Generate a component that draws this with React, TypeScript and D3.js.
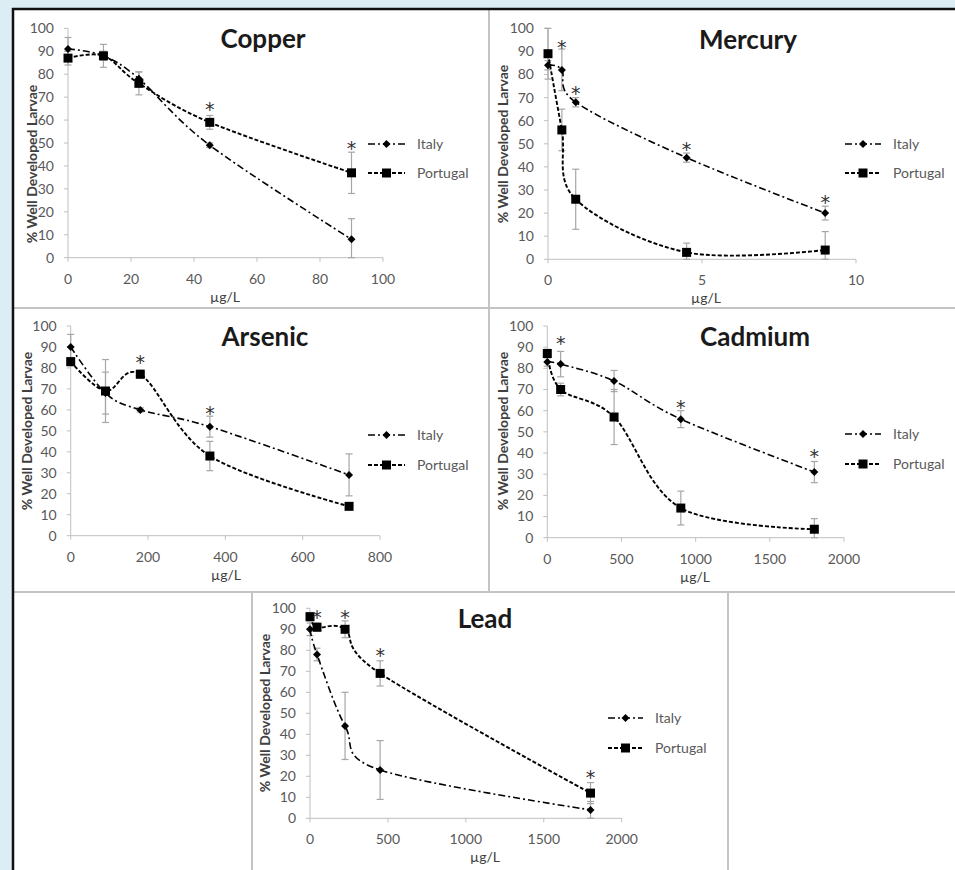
import * as d3 from 'd3';

const W = 955;
const H = 870;

// Copper (µg/L)
const copperConc = [0, 11.25, 22.5, 45, 90];
const copperItaly = [91, 88, 78, 49, 8];
const copperItalySd = [5, 2, 3, 1, 9];
const copperPortugal = [87, 88, 76, 59, 37];
const copperPortugalSd = [3, 5, 5, 3, 9];
const copperStarConc = [45, 90];
const copperStarY = [67, 50];
const copperTicks = [0, 20, 40, 60, 80, 100];

// Mercury
const mercuryConc = [0, 0.45, 0.9, 4.5, 9];
const mercuryItaly = [84, 82, 68, 44, 20];
const mercuryItalySd = [2, 9, 2, 2, 3];
const mercuryPortugal = [89, 56, 26, 3, 4];
const mercuryPortugalSd = [11, 9, 13, 4, 8];
const mercuryStarConc = [0.45, 0.9, 4.5, 9];
const mercuryStarY = [94, 74, 50, 27];
const mercuryTicks = [0, 5, 10];

// Arsenic
const arsenicConc = [0, 90, 180, 360, 720];
const arsenicItaly = [90, 68, 60, 52, 29];
const arsenicItalySd = [6, 10, 1, 5, 10];
const arsenicPortugal = [83, 69, 77, 38, 14];
const arsenicPortugalSd = [2, 15, 2, 7, 1];
const arsenicStarConc = [180, 360];
const arsenicStarY = [85, 61];
const arsenicTicks = [0, 200, 400, 600, 800];

// Cadmium
const cadmiumConc = [0, 90, 450, 900, 1800];
const cadmiumItaly = [83, 82, 74, 56, 31];
const cadmiumItalySd = [2, 6, 5, 4, 5];
const cadmiumPortugal = [87, 70, 57, 14, 4];
const cadmiumPortugalSd = [2, 3, 13, 8, 5];
const cadmiumStarConc = [90, 900, 1800];
const cadmiumStarY = [94, 64, 41];
const cadmiumTicks = [0, 500, 1000, 1500, 2000];

// Lead
const leadConc = [0, 45, 225, 450, 1800];
const leadItaly = [90, 78, 44, 23, 4];
const leadItalySd = [3, 3, 16, 14, 4];
const leadPortugal = [96, 91, 90, 69, 12];
const leadPortugalSd = [2, 2, 4, 6, 5];
const leadStarConc = [45, 225, 450, 1800];
const leadStarY = [98, 98, 80, 22];
const leadTicks = [0, 500, 1000, 1500, 2000];

const yTicks = [0, 10, 20, 30, 40, 50, 60, 70, 80, 90, 100];
const seriesNames = ['Italy', 'Portugal'];

const FONT = "Lato, 'Open Sans', sans-serif";
const GRID = '#bfbfbf';
const ERR = '#a6a6a6';
const TXT = '#595959';

const panels = [
  {
    title: 'Copper', conc: copperConc, italy: copperItaly, italySd: copperItalySd,
    portugal: copperPortugal, portugalSd: copperPortugalSd,
    starConc: copperStarConc, starY: copperStarY, ticks: copperTicks,
    box: { x0: 68, x1: 383, y0: 257.7, y1: 28.3 },
    titleX: 263, titleY: 48, ylabX: 32, ylabY: 164, xlabX: 225,
    leg: { x0: 368, x1: 405, tx: 417, y1: 144, y2: 173 },
  },
  {
    title: 'Mercury', conc: mercuryConc, italy: mercuryItaly, italySd: mercuryItalySd,
    portugal: mercuryPortugal, portugalSd: mercuryPortugalSd,
    starConc: mercuryStarConc, starY: mercuryStarY, ticks: mercuryTicks,
    box: { x0: 548, x1: 856, y0: 259.3, y1: 28.3 },
    titleX: 748, titleY: 49, ylabX: 503, ylabY: 144, xlabX: 706,
    leg: { x0: 845, x1: 881, tx: 893, y1: 144, y2: 173 },
  },
  {
    title: 'Arsenic', conc: arsenicConc, italy: arsenicItaly, italySd: arsenicItalySd,
    portugal: arsenicPortugal, portugalSd: arsenicPortugalSd,
    starConc: arsenicStarConc, starY: arsenicStarY, ticks: arsenicTicks,
    box: { x0: 70.7, x1: 380, y0: 535.7, y1: 326 },
    titleX: 265, titleY: 346, ylabX: 27, ylabY: 431, xlabX: 226,
    leg: { x0: 368, x1: 405, tx: 417, y1: 435, y2: 465 },
  },
  {
    title: 'Cadmium', conc: cadmiumConc, italy: cadmiumItaly, italySd: cadmiumItalySd,
    portugal: cadmiumPortugal, portugalSd: cadmiumPortugalSd,
    starConc: cadmiumStarConc, starY: cadmiumStarY, ticks: cadmiumTicks,
    box: { x0: 547.3, x1: 844, y0: 537.7, y1: 326 },
    titleX: 755, titleY: 346, ylabX: 503, ylabY: 431, xlabX: 695,
    leg: { x0: 845, x1: 881, tx: 893, y1: 434, y2: 464 },
  },
  {
    title: 'Lead', conc: leadConc, italy: leadItaly, italySd: leadItalySd,
    portugal: leadPortugal, portugalSd: leadPortugalSd,
    starConc: leadStarConc, starY: leadStarY, ticks: leadTicks,
    box: { x0: 310, x1: 621.7, y0: 818.3, y1: 608.3 },
    titleX: 485, titleY: 628, ylabX: 265, ylabY: 713, xlabX: 485,
    leg: { x0: 608, x1: 643, tx: 655, y1: 718, y2: 748 },
  },
];

const styles = [
  { dash: '7,3,2,3', width: 1.6 },
  { dash: '4,2', width: 1.9 },
];

const diamond = 'M0,-4L4,0L0,4L-4,0Z';
const square = 'M-4.5,-4.5H4.5V4.5H-4.5Z';

function Marker({ kind, x, y }) {
  return <path d={kind === 0 ? diamond : square} transform={`translate(${x},${y})`} fill="#000" />;
}

function Panel({ p }) {
  const { box } = p;
  const x = d3.scaleLinear().domain([p.ticks[0], p.ticks[p.ticks.length - 1]]).range([box.x0, box.x1]);
  const y = d3.scaleLinear().domain([0, 100]).range([box.y0, box.y1]);
  const line = d3.line<[number, number]>()
    .x(d => x(d[0]))
    .y(d => y(d[1]))
    .curve(d3.curveCardinal.tension(0));

  const series = [
    { vals: p.italy, sd: p.italySd },
    { vals: p.portugal, sd: p.portugalSd },
  ];

  return (
    <g>
      {/* axes */}
      <line x1={box.x0} x2={box.x0} y1={box.y1} y2={box.y0} stroke={GRID} />
      <line x1={box.x0} x2={box.x1} y1={box.y0} y2={box.y0} stroke={GRID} />
      {yTicks.map(t => (
        <g key={'y' + t}>
          <line x1={box.x0 - 4} x2={box.x0} y1={y(t)} y2={y(t)} stroke={GRID} />
          <text x={box.x0 - 14} y={y(t)} dy="0.35em" textAnchor="end" fontSize={14} fill={TXT}>{t}</text>
        </g>
      ))}
      {p.ticks.map(t => (
        <g key={'x' + t}>
          <line x1={x(t)} x2={x(t)} y1={box.y0} y2={box.y0 + 4} stroke={GRID} />
          <text x={x(t)} y={box.y0 + 26} textAnchor="middle" fontSize={14} fill={TXT}>{t}</text>
        </g>
      ))}
      <text x={p.xlabX} y={box.y0 + 44} textAnchor="middle" fontSize={14} fill="#404040">µg/L</text>
      <text transform={`translate(${p.ylabX},${p.ylabY}) rotate(-90)`} textAnchor="middle" dy="0.35em"
        fontSize={14} fontWeight="bold" fill="#404040">% Well Developed Larvae</text>
      <text x={p.titleX} y={p.titleY} textAnchor="middle" fontSize={26} fontWeight="bold" fill="#1a1a1a">{p.title}</text>

      {/* error bars */}
      {series.map((s, k) => s.vals.map((v, i) => {
        const cx = x(p.conc[i]);
        const lo = y(Math.max(0, v - s.sd[i]));
        const hi = y(v + s.sd[i]);
        return (
          <g key={`e${k}-${i}`} stroke={ERR} strokeWidth={1.2}>
            <line x1={cx} x2={cx} y1={lo} y2={hi} />
            <line x1={cx - 3.5} x2={cx + 3.5} y1={lo} y2={lo} />
            <line x1={cx - 3.5} x2={cx + 3.5} y1={hi} y2={hi} />
          </g>
        );
      }))}

      {/* lines */}
      {series.map((s, k) => (
        <path key={'l' + k} d={line(s.vals.map((v, i) => [p.conc[i], v]))} fill="none" stroke="#000"
          strokeWidth={styles[k].width} strokeDasharray={styles[k].dash} />
      ))}
      {series.map((s, k) => s.vals.map((v, i) => (
        <Marker key={`m${k}-${i}`} kind={k} x={x(p.conc[i])} y={y(v)} />
      )))}

      {/* significance */}
      {p.starConc.map((c, i) => (
        <text key={'s' + i} x={x(c)} y={y(p.starY[i])} dy="0.62em" textAnchor="middle" fontSize={19}
          fontFamily="'DejaVu Sans', sans-serif" fill="#333">*</text>
      ))}

      {/* legend */}
      {seriesNames.map((n, k) => {
        const ly = k === 0 ? p.leg.y1 : p.leg.y2;
        return (
          <g key={'lg' + k}>
            <line x1={p.leg.x0} x2={p.leg.x1} y1={ly} y2={ly} stroke="#000" strokeWidth={styles[k].width}
              strokeDasharray={styles[k].dash} />
            <Marker kind={k} x={(p.leg.x0 + p.leg.x1) / 2} y={ly} />
            <text x={p.leg.tx} y={ly} dy="0.35em" fontSize={14} fill={TXT}>{n}</text>
          </g>
        );
      })}
    </g>
  );
}

export default function App() {
  return (
    <svg width={W} height={H} style={{ position: 'absolute', left: 0, top: 0 }} fontFamily={FONT}>
      <rect width={W} height={H} fill="#dcedf3" />
      <rect x={13} y={9} width={W - 13} height={H - 9} fill="#fff" />
      {/* panel dividers */}
      <g stroke="#c4c4c4" strokeWidth={2}>
        <line x1={13} x2={W} y1={308} y2={308} />
        <line x1={13} x2={W} y1={592} y2={592} />
        <line x1={489} x2={489} y1={9} y2={592} />
        <line x1={252} x2={252} y1={592} y2={H} />
        <line x1={728} x2={728} y1={592} y2={H} />
      </g>
      <line x1={12} x2={W} y1={9} y2={9} stroke="#111" strokeWidth={2.5} />
      <line x1={13} x2={13} y1={8} y2={H} stroke="#111" strokeWidth={2.5} />
      {panels.map(p => <Panel key={p.title} p={p} />)}
    </svg>
  );
}
